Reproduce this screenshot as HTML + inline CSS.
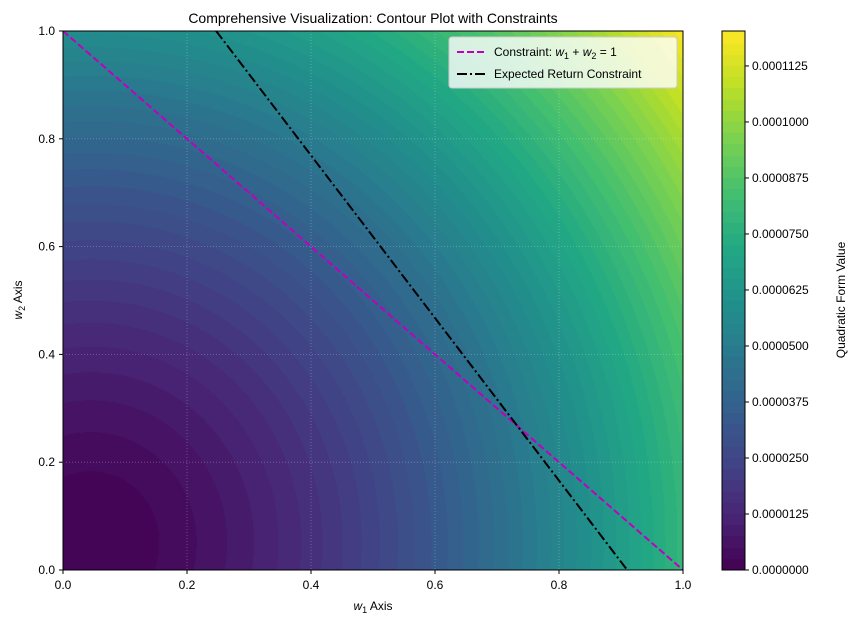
<!DOCTYPE html>
<html><head><meta charset="utf-8"><style>
body{margin:0;background:#fff;font-family:"Liberation Sans","DejaVu Sans",sans-serif;}
#wrap{position:relative;width:858px;height:625px;}
canvas{position:absolute;}
</style></head><body>
<div id="wrap">
<canvas id="cv" width="620" height="539" style="left:63px;top:31px"></canvas>
<canvas id="cb" width="23" height="539" style="left:722px;top:31px"></canvas>
<svg id="sv" width="858" height="625" style="position:absolute;left:0;top:0" font-family="Liberation Sans, DejaVu Sans, sans-serif"></svg>
</div>
<script>
// data
const center = [0.045, 0.05];
const axisWeights = [1.0, 0.83];
const shapePower = [0.8];
const scaleK = [0.0000847];
const levelStep = [0.0000025];
const levelMax = [0.00012];
const budgetLine = [[0, 1], [1, 0]];
const returnLine = [[0.247, 1], [0.91, 0]];
const xTicks = [0, 0.2, 0.4, 0.6, 0.8, 1.0];
const yTicks = [0, 0.2, 0.4, 0.6, 0.8, 1.0];
const cbTicks = [0, 0.0000125, 0.000025, 0.0000375, 0.00005, 0.0000625, 0.000075, 0.0000875, 0.0001, 0.0001125];

const L=63,T=31,W=620,H=539;
const sx=v=>L+v*W, sy=v=>T+H-v*H;
const vir=["#440154","#482475","#414487","#355f8d","#2a788e","#21918c","#22a884","#44bf70","#7ad151","#bddf26","#fde725"].map(h=>[1,3,5].map(i=>parseInt(h.substr(i,2),16)));
function cmap(t){t=Math.max(0,Math.min(1,t));const p=t*10,i=Math.min(9,Math.floor(p)),f=p-i;return vir[i].map((c,k)=>Math.round(c+(vir[i+1][k]-c)*f));}
function fval(x,y){const dx=(x-center[0])*axisWeights[0],dy=(y-center[1])*axisWeights[1];return scaleK[0]*Math.pow(dx*dx+dy*dy,shapePower[0]);}
const nLev=Math.round(levelMax[0]/levelStep[0]);
function bandColor(v){let i=Math.floor(v/levelStep[0]);i=Math.max(0,Math.min(nLev-1,i));return cmap((i+0.5)/nLev);}
const cv=document.getElementById('cv'),ctx=cv.getContext('2d'),img=ctx.createImageData(W,H);
for(let py=0;py<H;py++)for(let px=0;px<W;px++){const c=bandColor(fval((px+0.5)/W,1-(py+0.5)/H));const o=(py*W+px)*4;img.data[o]=c[0];img.data[o+1]=c[1];img.data[o+2]=c[2];img.data[o+3]=255;}
ctx.putImageData(img,0,0);
const cb=document.getElementById('cb'),c2=cb.getContext('2d'),cbMax=0.0001203;
for(let py=0;py<H;py++){const c=bandColor((1-(py+0.5)/H)*cbMax);c2.fillStyle=`rgb(${c})`;c2.fillRect(0,py,23,1);}
const sv=document.getElementById('sv');const NS='http://www.w3.org/2000/svg';
function mk(tag,a,txt){const e=document.createElementNS(NS,tag);for(const k in a)e.setAttribute(k,a[k]);if(txt!==undefined)e.textContent=txt;sv.appendChild(e);return e;}
let e;
xTicks.forEach(v=>{e=mk('line',{x1:sx(v),x2:sx(v),y1:T,y2:T+H,stroke:'#fff','stroke-opacity':0.3,'stroke-dasharray':'1,2','stroke-width':0.8});

e=mk('line',{x1:sx(v),x2:sx(v),y1:T+H,y2:T+H+4,stroke:'#000'});
e=mk('text',{x:sx(v),y:589,'font-size':12,'text-anchor':'middle'},v.toFixed(1));
});
yTicks.forEach(v=>{e=mk('line',{x1:L,x2:L+W,y1:sy(v),y2:sy(v),stroke:'#fff','stroke-opacity':0.3,'stroke-dasharray':'1,2','stroke-width':0.8});

e=mk('line',{x1:L-4,x2:L,y1:sy(v),y2:sy(v),stroke:'#000'});
e=mk('text',{x:55,y:sy(v)+4,'font-size':12,'text-anchor':'end'},v.toFixed(1));
});
e=mk('line',{x1:sx(budgetLine[0][0]),y1:sy(budgetLine[0][1]),x2:sx(budgetLine[1][0]),y2:sy(budgetLine[1][1]),stroke:'#c000c0','stroke-width':2,'stroke-dasharray':'7,3'});

e=mk('line',{x1:sx(returnLine[0][0]),y1:sy(returnLine[0][1]),x2:sx(returnLine[1][0]),y2:sy(returnLine[1][1]),stroke:'#000','stroke-width':2,'stroke-dasharray':'10,3,2,3'});

e=mk('rect',{x:L,y:T,width:W,height:H,fill:'none',stroke:'#000','stroke-width':1});

e=mk('rect',{x:722,y:T,width:23,height:H,fill:'none',stroke:'#000','stroke-width':1});
cbTicks.forEach(v=>{const y=T+H-v/cbMax*H;mk('line',{x1:745,x2:749,y1:y,y2:y,stroke:'#000'});
e=mk('text',{x:752,y:y+4,'font-size':12},v.toFixed(7));
});
e=mk('text',{x:845,y:300,'font-size':12,'text-anchor':'middle',transform:'rotate(-90 845 300)'},'Quadratic Form Value');

e=mk('text',{x:373,y:23,'font-size':14,'text-anchor':'middle'},'Comprehensive Visualization: Contour Plot with Constraints');

e=mk('text',{x:373,y:610,'font-size':12,'text-anchor':'middle'});e.innerHTML='<tspan font-style="italic">w</tspan><tspan font-size="9" dy="3">1</tspan><tspan dy="-3"> Axis</tspan>';

e=mk('text',{x:22,y:300,'font-size':12,'text-anchor':'middle',transform:'rotate(-90 22 300)'});e.innerHTML='<tspan font-style="italic">w</tspan><tspan font-size="9" dy="3">2</tspan><tspan dy="-3"> Axis</tspan>';

e=mk('rect',{x:449,y:37,width:228,height:51,rx:3,fill:'#fff','fill-opacity':0.8,stroke:'#ccc'});

mk('line',{x1:457,x2:485,y1:52,y2:52,stroke:'#c000c0','stroke-width':2,'stroke-dasharray':'7,3'});
e=mk('text',{x:494,y:56,'font-size':12});e.innerHTML='Constraint: <tspan font-style="italic">w</tspan><tspan font-size="9" dy="3">1</tspan><tspan dy="-3"> + </tspan><tspan font-style="italic">w</tspan><tspan font-size="9" dy="3">2</tspan><tspan dy="-3"> = 1</tspan>';

mk('line',{x1:457,x2:485,y1:74,y2:74,stroke:'#000','stroke-width':2,'stroke-dasharray':'10,3,2,3'});
e=mk('text',{x:494,y:78,'font-size':12},'Expected Return Constraint');

</script>
</body></html>
